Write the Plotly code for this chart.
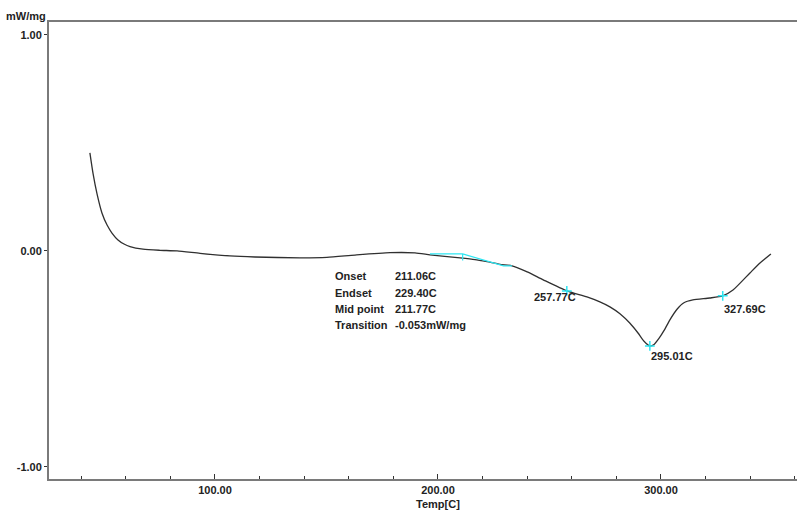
import numpy as np
import plotly.graph_objects as go

# DSC heat-flow curve
temp_c = [43.9, 45.3, 47.1, 49.3, 51.6, 53.8, 56.5, 59.2, 61.9, 67.7, 75.3, 83.0, 93.3,
          106.7, 117.9, 138.1, 150.2, 162.8, 178.5, 189.7, 196.4, 203.0, 209.9,
          216.6, 222.0, 227.8, 233.2, 240.0, 247.2, 257.77, 266.8, 272.6, 277.1,
          281.6, 286.1, 289.7, 292.4, 295.01, 296.9, 299.1, 301.4, 304.0, 307.2,
          310.3, 314.3, 321.9, 327.69, 332.3, 339.9, 344.4, 349.3]
heat_flow = [0.454, 0.359, 0.264, 0.176, 0.120, 0.083, 0.051, 0.032, 0.020, 0.008, 0.003, 0.0, -0.011,
             -0.023, -0.028, -0.032, -0.030, -0.019, -0.008, -0.009, -0.018, -0.025, -0.032,
             -0.040, -0.050, -0.062, -0.069, -0.097, -0.134, -0.185, -0.213, -0.236, -0.259,
             -0.291, -0.335, -0.380, -0.418, -0.440, -0.433, -0.405, -0.368, -0.319, -0.270,
             -0.240, -0.227, -0.218, -0.208, -0.181, -0.102, -0.056, -0.014]

# Glass-transition analysis
onset_c = 211.06
endset_c = 229.40
midpoint_c = 211.77
transition_mw = -0.053
baseline_start_c = 196.4
baseline_end_c = 233.2
baseline_before = -0.014
baseline_after = -0.069

# Peak / shoulder temperatures
peak_temps = [257.77, 295.01, 327.69]

# Axis ticks
x_ticks = [100, 200, 300]
x_tick_text = ["100.00", "200.00", "300.00"]
y_ticks = [-1, 0, 1]
y_tick_text = ["-1.00", "0.00", "1.00"]

CYAN = "#2ee6f2"
INK = "#222222"
AXIS = "#7a7a7a"
FONT = dict(family="Liberation Sans, Arial, sans-serif", size=11, color=INK)

fig = go.Figure()

fig.add_trace(go.Scatter(
    x=temp_c, y=heat_flow, mode="lines",
    line=dict(color="#303030", width=1.3, shape="spline", smoothing=0.6),
    hoverinfo="skip", showlegend=False))

# tangent baseline through onset / endset
fig.add_trace(go.Scatter(
    x=[baseline_start_c, onset_c, endset_c, baseline_end_c],
    y=[baseline_before, baseline_before, baseline_after, baseline_after],
    mode="lines", line=dict(color=CYAN, width=1.3),
    hoverinfo="skip", showlegend=False))
fig.add_trace(go.Scatter(
    x=[onset_c, onset_c], y=[baseline_before, baseline_before - 0.03],
    mode="lines", line=dict(color=CYAN, width=1.2),
    hoverinfo="skip", showlegend=False))

peak_vals = list(np.interp(peak_temps, temp_c, heat_flow))
fig.add_trace(go.Scatter(
    x=peak_temps, y=peak_vals, mode="markers",
    marker=dict(symbol="cross-thin", size=7, line=dict(color=CYAN, width=1.5)),
    hoverinfo="skip", showlegend=False))

annotations = []
shifts = [(-35, -6), (-1, -10), (-1, -13)]
for t, v, (dx, dy) in zip(peak_temps, peak_vals, shifts):
    annotations.append(dict(
        x=t, y=v, xref="x", yref="y", text=f"<b>{t:.2f}C</b>",
        showarrow=False, xanchor="left", yanchor="middle",
        xshift=dx, yshift=dy, font=FONT))

rows = [("Onset", f"{onset_c:.2f}C"),
        ("Endset", f"{endset_c:.2f}C"),
        ("Mid point", f"{midpoint_c:.2f}C"),
        ("Transition", f"{transition_mw:.3f}mW/mg")]
row_px = [276, 293, 309, 325]
for (name, val), py in zip(rows, row_px):
    yv = (251 - py) / 216
    annotations.append(dict(x=152.9, y=yv, xref="x", yref="y", text=f"<b>{name}</b>",
                            showarrow=False, xanchor="left", yanchor="middle", font=FONT))
    annotations.append(dict(x=179.8, y=yv, xref="x", yref="y", text=f"<b>{val}</b>",
                            showarrow=False, xanchor="left", yanchor="middle", font=FONT))

annotations.append(dict(x=-0.001, y=1.0, xref="paper", yref="paper", text="<b>mW/mg</b>",
                        showarrow=False, xanchor="right", yanchor="bottom",
                        yshift=-2, font=FONT))
annotations.append(dict(x=200, y=0, xref="x", yref="paper", text="<b>Temp[C]</b>",
                        showarrow=False, xanchor="center", yanchor="top",
                        yshift=-17, font=FONT))

fig.update_layout(
    width=797, height=510,
    margin=dict(l=49, r=0, t=22, b=31),
    paper_bgcolor="white", plot_bgcolor="white",
    font=FONT,
    annotations=annotations,
    xaxis=dict(
        range=[25.56, 361.0], showgrid=False, zeroline=False,
        showline=True, linecolor=AXIS, linewidth=2, mirror=True,
        tickvals=x_ticks, ticktext=[f"<b>{s}</b>" for s in x_tick_text],
        ticks="inside", ticklen=5, tickcolor="#333333", tickwidth=1,
        minor=dict(dtick=20, tick0=0, ticks="inside", ticklen=3,
                   tickcolor="#333333", tickwidth=1, showgrid=False),
        tickfont=FONT),
    yaxis=dict(
        range=[-1.056, 1.060], showgrid=False, zeroline=False,
        showline=True, linecolor=AXIS, linewidth=2,
        tickvals=y_ticks, ticktext=[f"<b>{s}</b>" for s in y_tick_text],
        ticks="outside", ticklen=3, tickcolor="#333333", tickwidth=1,
        tickfont=FONT),
)

fig.write_html("out.html")
